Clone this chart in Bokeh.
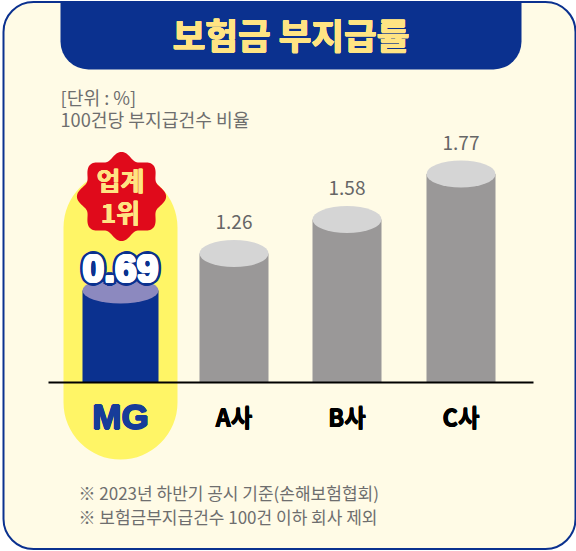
import numpy as np
from bokeh.plotting import figure
from bokeh.embed import file_html
from bokeh.resources import INLINE
from bokeh.core.properties import value

title = "보험금 부지급률"
unit_lines = ["[단위 : %]", "100건당 부지급건수 비율"]
note_lines = ["※ 2023년 하반기 공시 기준(손해보험협회)", "※ 보험금부지급건수 100건 이하 회사 제외"]
categories = ["MG", "A사", "B사", "C사"]
value_labels = ["0.69", "1.26", "1.58", "1.77"]
drawn_heights = [92, 129, 163, 208.5]  # the picture's bars are not proportional to their labels
badge_lines = ["업계", "1위"]

KR = value("Noto Sans CJK KR")
LS = value("Liberation Sans")
NAVY = "#0B318F"
W, H = 576, 551
BASE = 382

p = figure(width=W, height=H, x_range=(0, W), y_range=(BASE - H, BASE),
           output_backend="svg", toolbar_location=None, min_border=0,
           styles={"position": "absolute", "left": "0px", "top": "0px"})
p.axis.visible = False
p.grid.visible = False
p.outline_line_color = None
p.background_fill_color = "white"
p.border_fill_color = "white"


def Y(py):
    return BASE - py


def ring(r, n=8):
    a = np.arange(n) * 2 * np.pi / n
    return list(zip(r * np.cos(a), r * np.sin(a)))


def heavy(x, y, s, r, color, font=KR, size="20px", n=8):
    # thickens or outlines a label, since the svg text has no stroke
    for dx, dy in ring(r, n):
        p.text(x=[x + dx], y=[y + dy], text=[s], text_font=font, text_font_style="bold", text_font_size=size,
               text_color=color, text_align="center", text_baseline="middle")


# frame and header
p.quad(left=[3], right=[575], top=[Y(1.5)], bottom=[Y(548.5)], fill_color="#FFFBE6",
       line_color=NAVY, line_width=2, border_radius=30)
p.quad(left=[60], right=[521], top=[Y(1)], bottom=[Y(69)], fill_color=NAVY, line_color=None,
       border_radius=(0, 0, 28, 28))
heavy(290.5, Y(33), title, 0.5, "#FFE483", size="35.5px")

# highlight capsule
p.quad(left=[63], right=[177], top=[Y(170)], bottom=[Y(459)], fill_color="#FFF566", line_color=None,
       border_radius=57)

# bars
centers = [120, 233.5, 346.5, 460.5]
widths = [76, 69, 69, 69]
sides = [NAVY, "#9A9898", "#9A9898", "#9A9898"]
caps = ["#8C89BF", "#D5D5D5", "#D5D5D5", "#D5D5D5"]
p.vbar(x=centers, width=widths, bottom=0, top=drawn_heights, fill_color=sides, line_color=None)
p.ellipse(x=centers, y=drawn_heights, width=widths, height=[26, 27, 27, 27], fill_color=caps, line_color=None)
p.segment(x0=[48], x1=[533], y0=[0], y1=[0], line_color="black", line_width=2)

# value labels
p.text(x=centers[1:], y=[h + 31.5 for h in drawn_heights[1:]], text=value_labels[1:], text_font=KR,
       text_font_size="19px", text_color="#666666", text_align="center", text_baseline="middle")

# category labels
heavy(centers[0], Y(416), categories[0], 0.7, "#173C99", font=LS, size="35px")
for c, s in zip(centers[1:], categories[1:]):
    heavy(c, Y(416), s, 0.4, "black", size="23.5px", n=4)

# badge
t = np.linspace(0, 2 * np.pi, 241)
r = 41 + 3.6 * np.cos(8 * t)
p.patch(x=121 + r * np.sin(t), y=Y(196) + r * np.cos(t), fill_color="#E00A1B", line_color=None)
heavy(120, Y(179), badge_lines[0], 0.4, "#FFE483", size="26px", n=4)
heavy(120, Y(211), badge_lines[1], 0.4, "#FFE483", size="26px", n=4)

# MG value
heavy(120, Y(268), value_labels[0], 4, NAVY, font=LS, size="39px", n=12)
heavy(120, Y(268), value_labels[0], 1.3, "white", font=LS, size="39px", n=10)

# notes
p.text(x=[60, 60], y=[Y(96), Y(118)], text=unit_lines, text_font=KR, text_font_size="18.2px",
       text_color="#6E6E6E", text_align="left", text_baseline="middle")
p.text(x=[78, 78], y=[Y(492), Y(516)], text=note_lines, text_font=KR, text_font_size="17px",
       text_color="#6E6E6E", text_align="left", text_baseline="middle")

open("out.html", "w").write(file_html(p, INLINE))
